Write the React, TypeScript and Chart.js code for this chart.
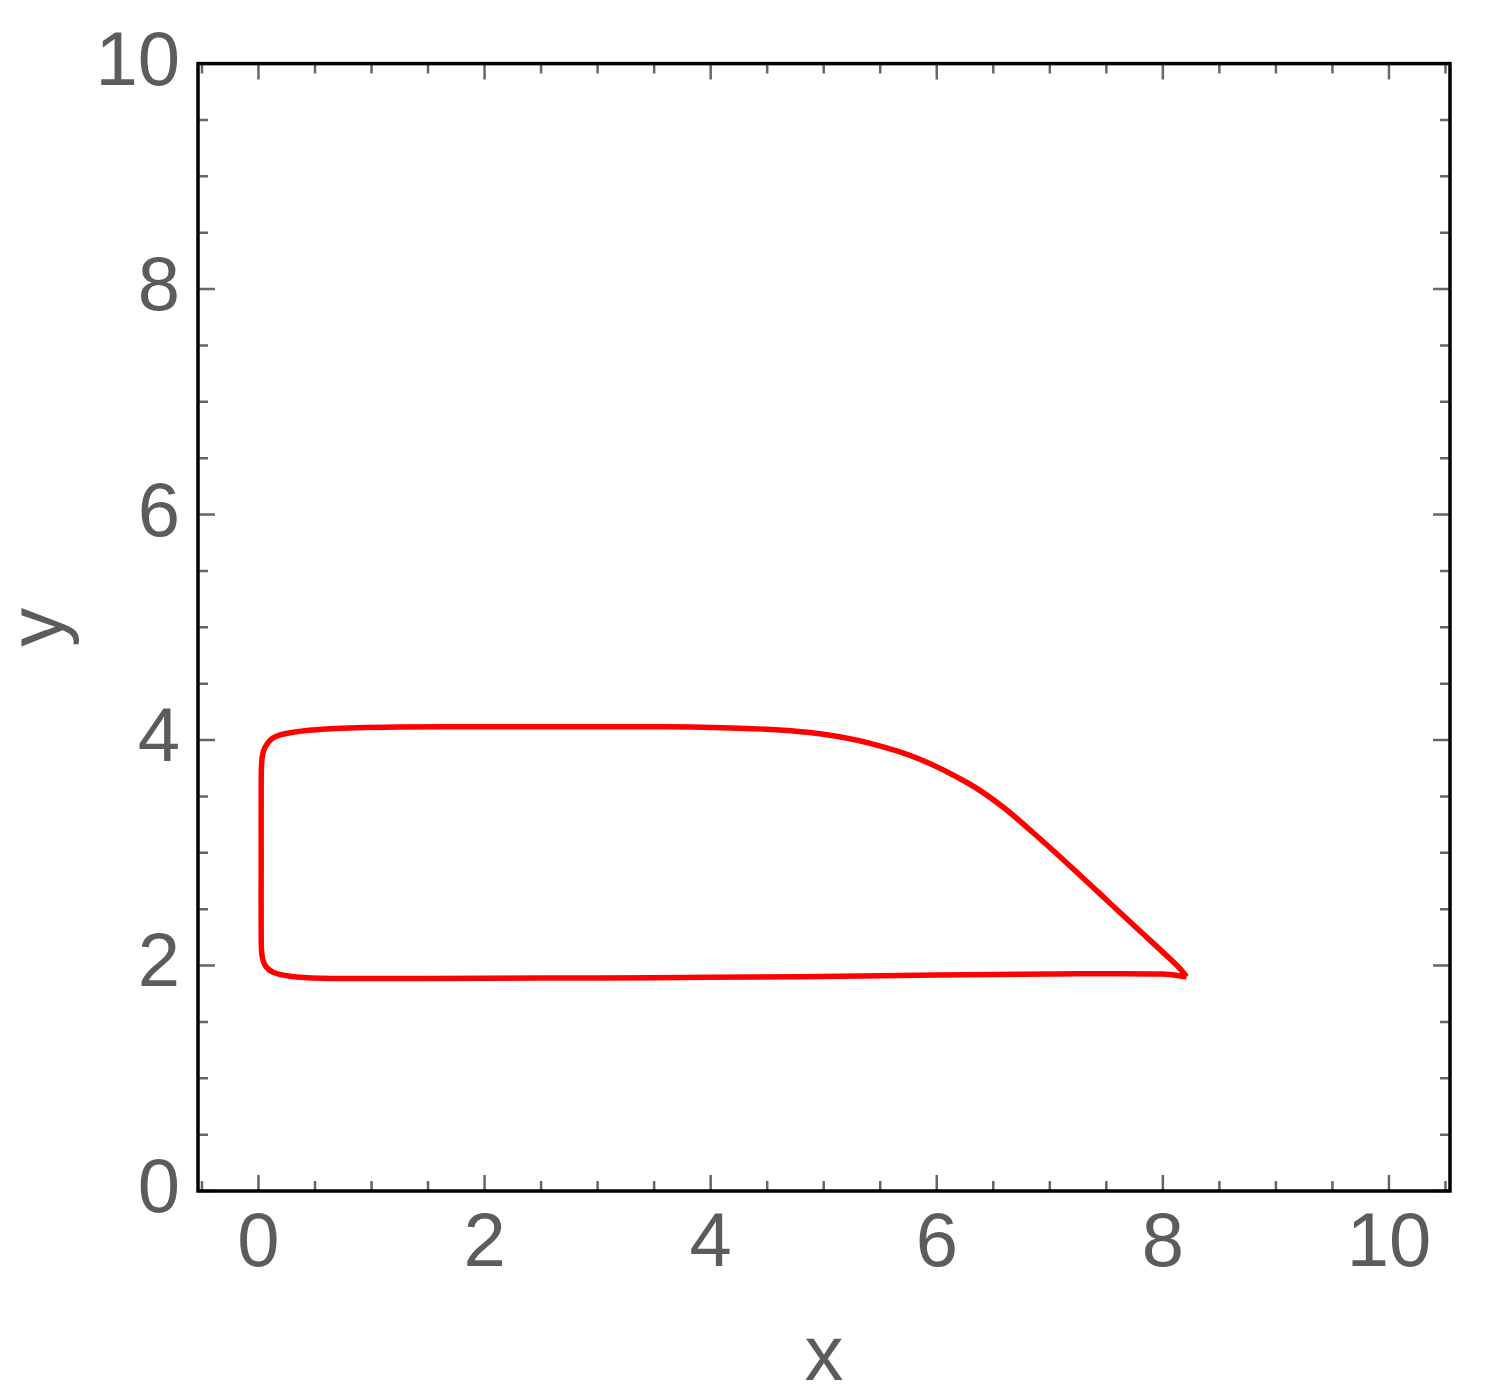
import React, { useEffect, useRef } from "react";
import { Chart, registerables } from "chart.js";

Chart.register(...registerables);

// Closed curve (x, y pairs along the loop)
const curveX = [
  8.21, 8.0, 7.0, 6.5, 5.5, 4.8, 4.0, 3.0, 2.0, 1.0, 0.55, 0.28, 0.13, 0.06, 0.03,
  0.024, 0.024, 0.024, 0.026, 0.035, 0.06, 0.13, 0.28, 0.63, 1.25, 2.0, 3.0, 3.6,
  4.0, 4.5, 4.97, 5.41, 5.85, 6.29, 6.58, 6.85, 7.15, 7.44, 7.74, 8.03, 8.15, 8.21,
];
const curveY = [
  1.9, 1.925, 1.925, 1.92, 1.91, 1.9, 1.895, 1.89, 1.887, 1.885, 1.887, 1.905, 1.94, 2.0, 2.1,
  2.3, 2.9, 3.5, 3.75, 3.86, 3.94, 4.02, 4.065, 4.1, 4.115, 4.118, 4.118, 4.117,
  4.112, 4.095, 4.055, 3.97, 3.83, 3.61, 3.41, 3.18, 2.91, 2.64, 2.36, 2.09, 1.975, 1.9,
];

const xTickValues = [0, 2, 4, 6, 8, 10];
const yTickValues = [0, 2, 4, 6, 8, 10];
const xMinorTicks = [
  -0.5, 0, 0.5, 1, 1.5, 2, 2.5, 3, 3.5, 4, 4.5, 5, 5.5, 6, 6.5, 7, 7.5, 8, 8.5, 9, 9.5, 10, 10.5,
];
const yMinorTicks = [
  0, 0.5, 1, 1.5, 2, 2.5, 3, 3.5, 4, 4.5, 5, 5.5, 6, 6.5, 7, 7.5, 8, 8.5, 9, 9.5, 10,
];

const xTitle = "x";
const yTitle = "y";

const LABEL_COLOR = "#5c5c5c";
const TICK_COLOR = "#666666";
const FONT = "'Liberation Sans', Arial, sans-serif";

const frameTicksPlugin = {
  id: "frameTicks",
  afterDatasetsDraw(chart: any) {
    const { ctx, chartArea: a, scales } = chart;
    const x = scales.x;
    const y = scales.y;
    ctx.save();
    ctx.strokeStyle = TICK_COLOR;
    ctx.lineWidth = 2.5;
    ctx.beginPath();
    for (const v of xMinorTicks) {
      const px = x.getPixelForValue(v);
      const len = xTickValues.includes(v) ? 16 : 10;
      ctx.moveTo(px, a.bottom);
      ctx.lineTo(px, a.bottom - len);
      ctx.moveTo(px, a.top);
      ctx.lineTo(px, a.top + len);
    }
    for (const v of yMinorTicks) {
      const py = y.getPixelForValue(v);
      const len = yTickValues.includes(v) ? 17 : 10;
      ctx.moveTo(a.left, py);
      ctx.lineTo(a.left + len, py);
      ctx.moveTo(a.right, py);
      ctx.lineTo(a.right - len, py);
    }
    ctx.stroke();
    ctx.strokeStyle = "#000000";
    ctx.lineWidth = 3.5;
    ctx.strokeRect(a.left, a.top, a.right - a.left, a.bottom - a.top);
    ctx.restore();
  },
};

export default function App() {
  const canvasRef = useRef<HTMLCanvasElement | null>(null);

  useEffect(() => {
    const canvas = canvasRef.current;
    if (!canvas) return;
    const data = curveX.map((xv, i) => ({ x: xv, y: curveY[i] }));
    const chart = new Chart(canvas, {
      type: "scatter",
      data: {
        datasets: [
          {
            data,
            showLine: true,
            borderColor: "#ff0000",
            borderWidth: 5.5,
            pointRadius: 0,
            tension: 0.3,
            fill: false,
          },
        ],
      },
      options: {
        animation: false,
        responsive: false,
        devicePixelRatio: 1,
        layout: { padding: { left: 0, top: 60, right: 48, bottom: 0 } },
        plugins: { legend: { display: false }, tooltip: { enabled: false } },
        scales: {
          x: {
            type: "linear",
            min: -0.535,
            max: 10.54,
            grid: { display: false, drawTicks: false },
            border: { display: false },
            afterBuildTicks: (scale: any) => {
              scale.ticks = xTickValues.map((v) => ({ value: v }));
            },
            afterFit: (scale: any) => {
              scale.height = 206;
            },
            ticks: {
              color: LABEL_COLOR,
              padding: 8,
              maxRotation: 0,
              autoSkip: false,
              font: { family: FONT, size: 76, lineHeight: 1.2 },
              callback: (v: any) => String(v),
            },
            title: {
              display: true,
              text: xTitle,
              color: LABEL_COLOR,
              font: { family: FONT, size: 78, lineHeight: 1 },
              padding: { top: 0, bottom: 0 },
            },
          },
          y: {
            type: "linear",
            min: 0,
            max: 10,
            grid: { display: false, drawTicks: false },
            border: { display: false },
            afterBuildTicks: (scale: any) => {
              scale.ticks = yTickValues.map((v) => ({ value: v }));
            },
            afterFit: (scale: any) => {
              scale.width = 198;
            },
            ticks: {
              color: LABEL_COLOR,
              padding: 18,
              autoSkip: false,
              font: { family: FONT, size: 76, lineHeight: 1.2 },
              callback: (v: any) => String(v),
            },
            title: {
              display: true,
              text: yTitle,
              color: LABEL_COLOR,
              font: { family: FONT, size: 78, lineHeight: 1 },
              padding: { top: 2, bottom: 0 },
            },
          },
        },
      },
      plugins: [frameTicksPlugin],
    });
    return () => chart.destroy();
  }, []);

  return (
    <div style={{ position: "absolute", left: 0, top: 0, width: 1498, height: 1397, background: "#ffffff" }}>
      <canvas ref={canvasRef} width={1498} height={1397} style={{ width: 1498, height: 1397, display: "block" }} />
    </div>
  );
}
